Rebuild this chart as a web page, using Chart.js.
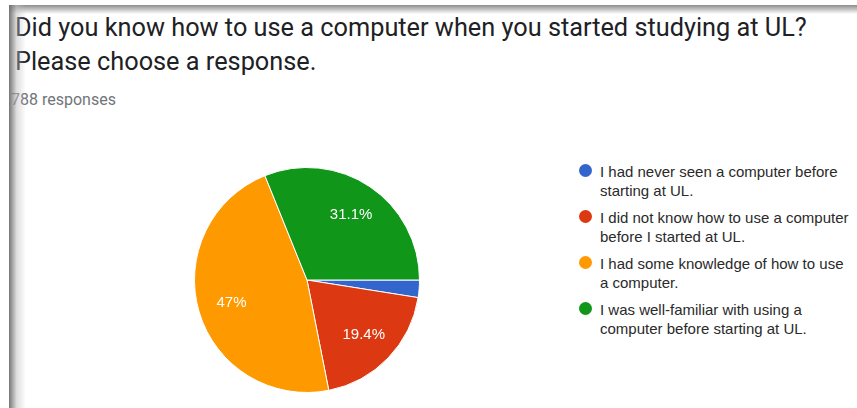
<!DOCTYPE html>
<html>
<head>
<meta charset="utf-8">
<script src="https://cdn.jsdelivr.net/npm/chart.js@4/dist/chart.umd.min.js"></script>
<style>
  html, body { margin: 0; padding: 0; background: #fff; }
  #page { position: relative; width: 857px; height: 408px; overflow: hidden; background: #fff; }
  #title {
    position: absolute; left: 15px; top: 11px; margin: 0;
    font-family: Roboto, Arial, sans-serif; font-size: 25.3px; font-weight: 400;
    line-height: 34px; color: #202124; white-space: nowrap;
  }
  #count {
    position: absolute; left: 11px; top: 90px;
    font-family: Roboto, Arial, sans-serif; font-size: 16px; color: #70757a;
  }
  #pie-box { position: absolute; left: 192px; top: 165px; width: 230px; height: 230px; }
  #legend {
    position: absolute; left: 579px; top: 162px; margin: 0; padding: 0; list-style: none;
    font-family: "Liberation Sans", Arial, sans-serif; font-size: 15px; line-height: 19px;
    color: #2a2a2a; white-space: nowrap;
  }
  #legend li { position: relative; padding-left: 21px; margin-bottom: 8px; }
  #legend .dot {
    position: absolute; left: 0; top: 2px; width: 13px; height: 13px; border-radius: 50%;
  }
  .shade-top {
    position: absolute; left: 9px; right: 0; top: 5px; height: 9px;
    background: linear-gradient(to bottom, rgba(120,120,120,0.85), rgba(255,255,255,0));
  }
  .shade-left {
    position: absolute; left: 9px; top: 5px; bottom: 0; width: 17px;
    background: linear-gradient(to right, rgba(110,110,110,0.95), rgba(190,190,190,0.5) 45%, rgba(255,255,255,0));
  }
</style>
</head>
<body>
<div id="page">
  <p id="title">Did you know how to use a computer when you started studying at UL?<br>Please choose a response.</p>
  <div id="count">788 responses</div>
  <div id="pie-box"><canvas id="pie" width="230" height="230"></canvas></div>
  <ul id="legend"></ul>
  <div class="shade-top"></div>
  <div class="shade-left"></div>
</div>
<script>
const answers = [
  'I had never seen a computer before\nstarting at UL.',
  'I did not know how to use a computer\nbefore I started at UL.',
  'I had some knowledge of how to use\na computer.',
  'I was well-familiar with using a\ncomputer before starting at UL.'
];
const shares = [2.5, 19.4, 47, 31.1];
const sliceColors = ['#3366cc', '#dc3912', '#ff9900', '#109618'];

// legend built from the same lists
const legendEl = document.getElementById('legend');
answers.forEach((text, i) => {
  const li = document.createElement('li');
  const dot = document.createElement('span');
  dot.className = 'dot';
  dot.style.background = sliceColors[i];
  li.appendChild(dot);
  text.split('\n').forEach((line, j) => {
    if (j > 0) li.appendChild(document.createElement('br'));
    li.appendChild(document.createTextNode(line));
  });
  legendEl.appendChild(li);
});

// percentage text inside each slice, skipped for tiny slices
const sliceLabels = {
  id: 'sliceLabels',
  afterDatasetsDraw(chart) {
    const ctx = chart.ctx;
    const meta = chart.getDatasetMeta(0);
    ctx.save();
    ctx.fillStyle = '#ffffff';
    ctx.font = '15px "Liberation Sans", Arial, sans-serif';
    ctx.textAlign = 'center';
    ctx.textBaseline = 'middle';
    meta.data.forEach((arc, i) => {
      if (shares[i] < 5) return;
      const mid = (arc.startAngle + arc.endAngle) / 2;
      const r = arc.outerRadius * 0.7;
      ctx.fillText(shares[i] + '%', arc.x + Math.cos(mid) * r, arc.y + Math.sin(mid) * r);
    });
    ctx.restore();
  }
};

try {
  new Chart(document.getElementById('pie').getContext('2d'), {
    type: 'pie',
    data: {
      labels: answers.map(a => a.replace('\n', ' ')),
      datasets: [{
        data: shares,
        backgroundColor: sliceColors,
        borderColor: '#ffffff',
        borderWidth: 1
      }]
    },
    options: {
      responsive: false,
      animation: false,
      rotation: 90,
      layout: { padding: 2 },
      plugins: {
        legend: { display: false },
        tooltip: { enabled: false }
      }
    },
    plugins: [sliceLabels]
  });
} catch (error) {
  console.error('Error drawing pie:', error);
}
</script>
</body>
</html>
